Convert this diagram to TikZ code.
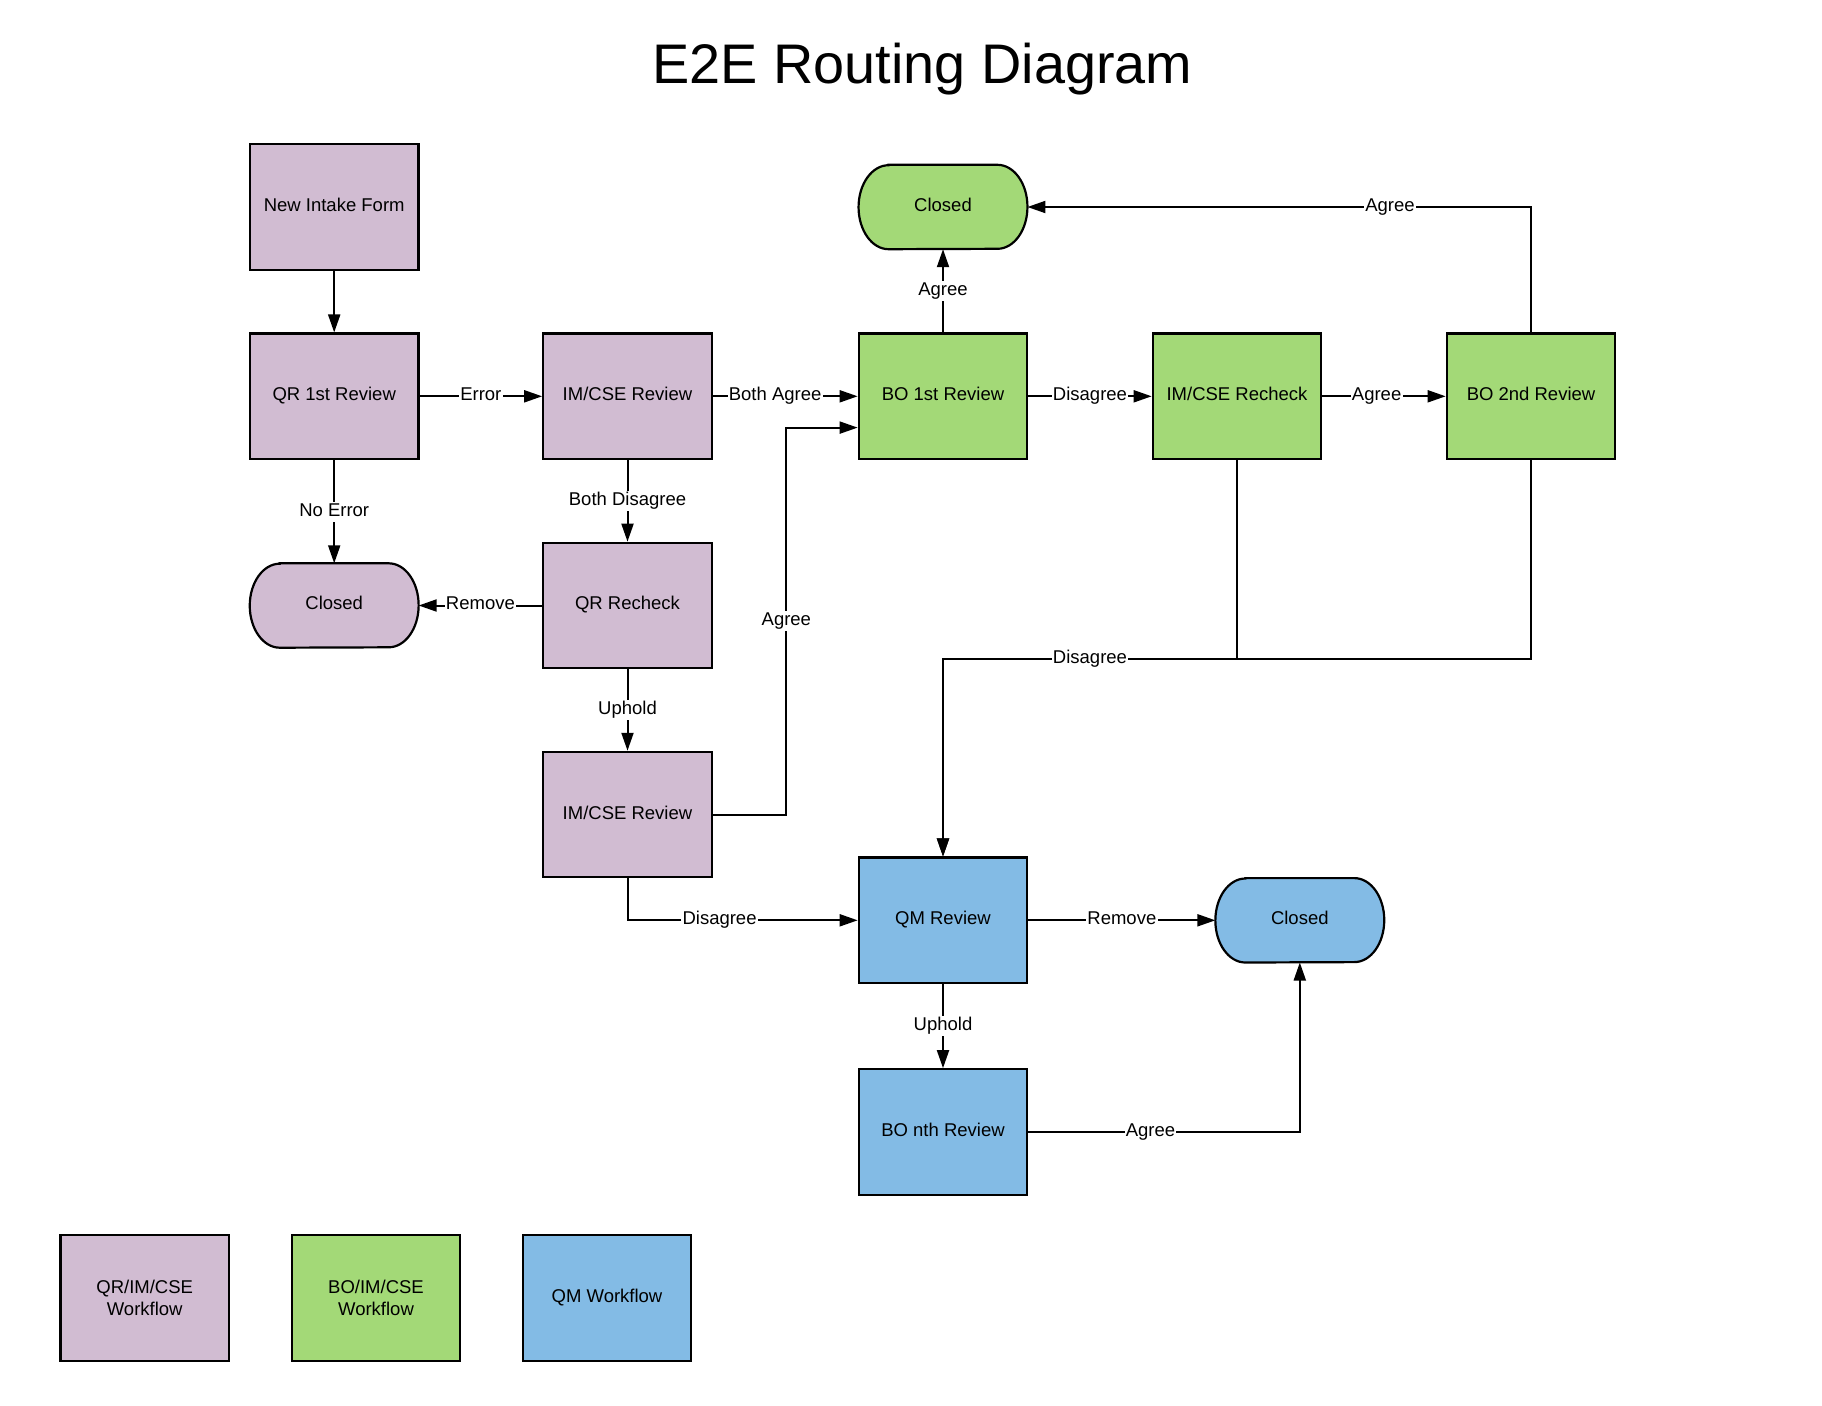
\documentclass[tikz,border=0pt]{standalone}
\usepackage{fontspec}
\setmainfont{Liberation Sans}
\usetikzlibrary{arrows.meta}
\definecolor{qrpurple}{HTML}{D1BCD2}
\definecolor{bogreen}{HTML}{A3D977}
\definecolor{qmblue}{HTML}{83BBE5}
\pgfdeclarelayer{bgzero}
\pgfdeclarelayer{bgone}
\pgfsetlayers{bgzero,bgone,main}
\newcommand\stadiumshape[2]{%
  \draw[line width=2.2pt, fill=#2]
    ([xshift=30pt]#1.north west) -- ([xshift=-30pt]#1.north east)
    arc[start angle=90, end angle=-90, x radius=30pt, y radius=42pt]
    -- ([xshift=30pt]#1.south west)
    arc[start angle=270, end angle=90, x radius=30pt, y radius=42pt]
    -- cycle;}
\begin{document}
\begin{tikzpicture}[x=1pt,y=-1pt,
  txt/.style={font=\fontsize{18.5}{21.5}\selectfont, text=black, text height=13.2pt, text depth=4.4pt},
  box/.style={txt, draw=black, line width=2.2pt, minimum width=168.5pt,
    minimum height=125.5pt, inner sep=0pt, align=center},
  legbox/.style={box, text height={}, text depth={}},
  term/.style={txt, minimum width=168.5pt, minimum height=84pt, inner sep=0pt},
  conn/.style={line width=2pt, -{Triangle[length=18pt,width=12pt]}},
  lab/.style={txt, fill=white, inner sep=1.2pt}]
\begin{pgfonlayer}{bgzero}
\fill[white] (0,0) rectangle (1822,1405);
\end{pgfonlayer}
\useasboundingbox (0,0) rectangle (1822,1405);

\node[anchor=base, font=\fontsize{55.8}{66}\selectfont] (title) at (922.5,83.3) {E2E Routing Diagram};

% purple column
\node[box, fill=qrpurple] (intake) at (334.2,207) {New Intake Form};
\node[box, fill=qrpurple] (qr1) at (334.2,396.3) {QR 1st Review};
\node[box, fill=qrpurple] (imcse1) at (627.5,396.3) {IM/CSE Review};
\node[term] (closedp) at (334.2,605.5) {Closed};
\node[box, fill=qrpurple] (qrre) at (627.5,605.5) {QR Recheck};
\node[box, fill=qrpurple] (imcse2) at (627.5,814.6) {IM/CSE Review};

% green
\node[box, fill=bogreen] (bo1) at (943,396.3) {BO 1st Review};
\node[box, fill=bogreen] (imcser) at (1237,396.3) {IM/CSE Recheck};
\node[box, fill=bogreen] (bo2) at (1531,396.3) {BO 2nd Review};
\node[term] (closedg) at (943,207) {Closed};

% blue
\node[box, fill=qmblue] (qm) at (943,920.3) {QM Review};
\node[term] (closedb) at (1299.8,920.3) {Closed};
\node[box, fill=qmblue] (bonth) at (943,1132) {BO nth Review};

% legend
\node[legbox, fill=qrpurple] (legqr) at (144.7,1298) {QR/IM/CSE\\Workflow};
\node[legbox, fill=bogreen] (legbo) at (376,1298) {BO/IM/CSE\\Workflow};
\node[legbox, fill=qmblue] (legqm) at (607,1298) {QM Workflow};

\begin{pgfonlayer}{bgone}
\stadiumshape{closedp}{qrpurple}
\stadiumshape{closedg}{bogreen}
\stadiumshape{closedb}{qmblue}
\end{pgfonlayer}

% connectors
\draw[conn] (intake) -- (qr1);
\draw[conn] (qr1) -- node[lab]{Error} (imcse1);
\draw[conn] (imcse1) -- node[lab, pos=0.43]{Both Agree} (bo1);
\draw[conn] (imcse1) -- node[lab]{Both Disagree} (qrre);
\draw[conn] (qr1) -- node[lab]{No Error} (closedp);
\draw[conn] (qrre) -- node[lab]{Remove} (closedp);
\draw[conn] (qrre) -- node[lab]{Uphold} (imcse2);
\draw[conn] (imcse2.east) -- ++(73.5,0) |- node[lab, pos=0.25]{Agree} ([yshift=-31.3pt]bo1.west);
\draw[conn] (imcse2.south) |- node[lab, pos=0.70]{Disagree} (qm.west);
\draw[conn] (bo1) -- node[lab]{Agree} (closedg);
\draw[conn] (bo1) -- node[lab]{Disagree} (imcser);
\draw[conn] (imcser) -- node[lab, pos=0.44]{Agree} (bo2);
\draw[conn] (bo2.north) |- node[lab, pos=0.64]{Agree} (closedg.east);
\draw[conn] (bo2.south) -- ++(0,199.3) -| (qm.north);
\draw[conn] (imcser.south) -- ++(0,199.3) -| node[lab, pos=0.25]{Disagree} (qm.north);
\draw[conn] (qm) -- node[lab]{Remove} (closedb);
\draw[conn] (qm) -- node[lab]{Uphold} (bonth);
\draw[conn] (bonth.east) -| node[lab, pos=0.225]{Agree} (closedb.south);
\end{tikzpicture}
\end{document}
